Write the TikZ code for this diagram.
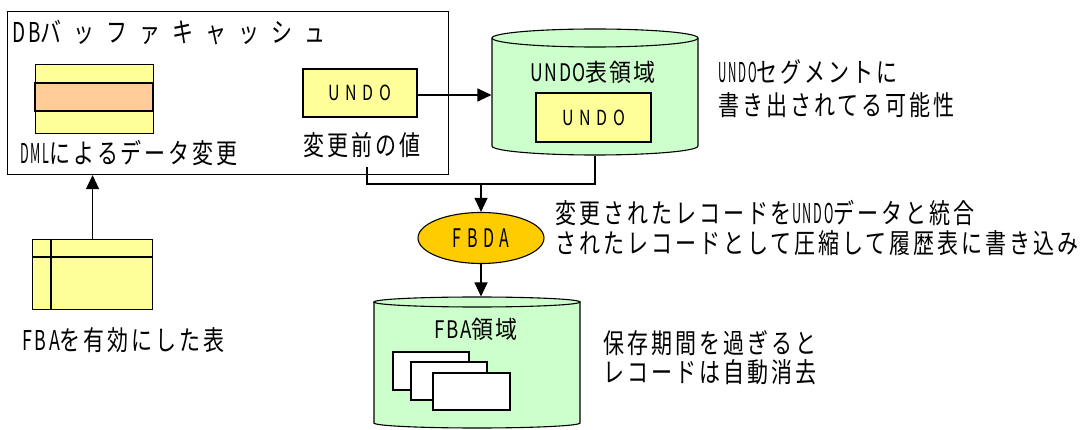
\documentclass[tikz,border=0pt]{standalone}
\usepackage{fontspec}
\usepackage{graphicx}
\usetikzlibrary{shapes.geometric,arrows.meta}
\newfontfamily\jp[LetterSpace=14]{Noto Sans CJK JP}
\newfontfamily\jpt[LetterSpace=57]{Noto Sans CJK JP}
\newfontfamily\jpl[LetterSpace=35]{Noto Sans CJK JP}
\newfontfamily\jpm[LetterSpace=8]{Noto Sans CJK JP}
\newcommand\tl[1]{\scalebox{1}[1.3]{#1}}
\newcommand\nl[2]{\scalebox{#1}[1]{#2}}
\definecolor{yel}{HTML}{FFFF99}
\definecolor{ora}{HTML}{FFCC99}
\definecolor{grn}{HTML}{CCFFCC}
\definecolor{gold}{HTML}{FFCC00}
\tikzset{
  txt/.style={inner sep=0pt, font=\jp\fontsize{21}{25}\selectfont},
  ttl/.style={inner sep=0pt, font=\jp\fontsize{21}{25}\selectfont},
  big/.style={inner sep=0pt, font=\jpm\fontsize{22}{26}\selectfont},
  lblfont/.style={font=\jpl\fontsize{16}{20}\selectfont},
  yrect/.style={draw, fill=yel, inner sep=0pt},
  conn/.style={line width=1.1pt},
  arr/.style={conn, -{Triangle[length=14pt,width=13pt]}},
}
\begin{document}
\begin{tikzpicture}[x=1pt,y=-1pt,line width=1.1pt]
\useasboundingbox (0,0) rectangle (1085,430);
% DB buffer cache
\node[draw, minimum width=441pt, minimum height=163pt, inner sep=0pt, anchor=north west] (cache) at (7,11) {};
\node[ttl, anchor=west] (title) at (12,33) {\tl{\nl{0.9}{DB}{\jpt バッファキャッシュ}}};
\node[yrect, minimum width=118pt, minimum height=69pt, anchor=north west] (stack) at (35,64) {};
\draw[fill=ora] (35,83) rectangle (153,111);
\node[txt, anchor=west] (dml) at (20,153) {\tl{\nl{0.6}{DML}によるデータ変更}};
\node[yrect, lblfont, minimum width=114pt, minimum height=48pt] (undo1) at (360,93) {\scalebox{1}[1.3]{UNDO}};
\node[txt] (val) at (362,145) {\tl{変更前の値}};
% UNDO tablespace cylinder
\node[minimum width=206pt, minimum height=127pt, inner sep=0pt] (ucyl) at (595,91.5) {};
\path[fill=grn] (492,38) -- (492,146) arc[start angle=180, end angle=0, x radius=103, y radius=9] -- (698,38) -- cycle;
\draw (492,38) -- (492,146) arc[start angle=180, end angle=0, x radius=103, y radius=9] -- (698,38);
\draw[fill=grn] (595,38) ellipse[x radius=103, y radius=9];
\node[big] (ulabel) at (593,72) {\scalebox{1}[1.1]{\nl{0.8}{UNDO}表領域}};
\node[yrect, lblfont, minimum width=115pt, minimum height=49pt] (undo2) at (593.5,117.5) {\scalebox{1}[1.3]{UNDO}};
\node[txt, anchor=west] (useg1) at (718,72) {\tl{\nl{0.55}{UNDO}セグメントに}};
\node[txt, anchor=west] (useg2) at (718,105) {\tl{書き出されてる可能性}};
% FBDA
\node[ellipse, draw, fill=gold, lblfont, minimum width=126pt, minimum height=51pt, inner sep=0pt] (fbda) at (481,238) {\scalebox{1}[1.6]{FBDA}};
\node[txt, anchor=west] (fb1) at (555,213) {\tl{変更されたレコードを\nl{0.6}{UNDO}データと統合}};
\node[txt, anchor=west] (fb2) at (555,243) {\tl{されたレコードとして圧縮して履歴表に書き込み}};
% FBA cylinder
\node[minimum width=206pt, minimum height=131pt, inner sep=0pt] (fcyl) at (477,362.5) {};
\path[fill=grn] (374,302) -- (374,423) arc[start angle=180, end angle=0, x radius=103, y radius=5] -- (580,302) -- cycle;
\draw (374,302) -- (374,423) arc[start angle=180, end angle=0, x radius=103, y radius=5] -- (580,302);
\draw[fill=grn] (477,302) ellipse[x radius=103, y radius=5];
\node[big] (flabel) at (476,329) {\scalebox{1}[1.1]{\nl{0.85}{FBA}領域}};
\draw[fill=white] (393,352) rectangle (469,390);
\draw[fill=white] (411,362) rectangle (487,400);
\draw[fill=white] (433,373) rectangle (510,410);
\node[txt, anchor=west] (keep1) at (603,343) {\tl{保存期間を過ぎると}};
\node[txt, anchor=west] (keep2) at (603,372) {\tl{レコードは自動消去}};
% FBA-enabled table
\node[yrect, minimum width=120pt, minimum height=70pt, anchor=north west] (tbl) at (32,239) {};
\draw (51,239) -- (51,309);
\draw (32,257) -- (152,257);
\node[txt, anchor=west] (tbllab) at (22,340) {\tl{\nl{0.85}{FBA}を有効にした表}};
% connectors
\coordinate (vs) at (367,167);
\coordinate (j) at (481,184);
\draw[arr] ([yshift=-2pt]undo1.east) -- ([yshift=-2pt]undo1.east -| ucyl.west);
\draw[conn] (vs) |- (j) -| (ucyl.south);
\draw[arr] (j) -- (fbda.north);
\draw[arr] (fbda.south) -- (fbda.south |- fcyl.north);
\draw[arr] (tbl.north) -- (tbl.north |- cache.south);
\end{tikzpicture}
\end{document}
